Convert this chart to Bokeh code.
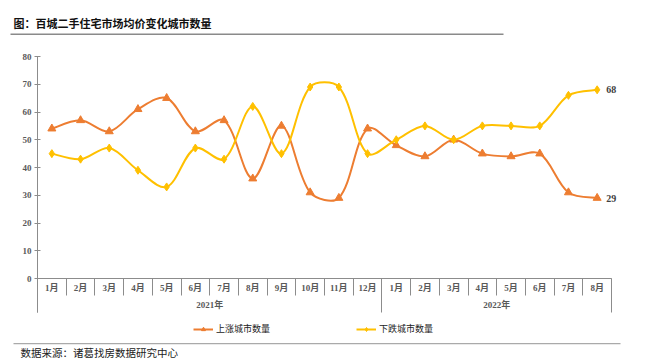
import math
from bokeh.plotting import figure
from bokeh.models import (Range1d, FixedTicker, LinearAxis, Legend, LegendItem,
                          Label, BoxAnnotation, ColumnDataSource)
from bokeh.embed import file_html
from bokeh.resources import INLINE

# ---- data ----
months = ["1月", "2月", "3月", "4月", "5月", "6月", "7月", "8月", "9月", "10月", "11月", "12月",
          "1月", "2月", "3月", "4月", "5月", "6月", "7月", "8月"]
years = ["2021年", "2022年"]
year_counts = [12, 8]
up = [54, 57, 53, 61, 65, 53, 57, 36, 55, 31, 29, 54, 48, 44, 50, 45, 44, 45, 31, 29]
down = [45, 43, 47, 39, 33, 47, 43, 62, 45, 69, 69, 45, 50, 55, 50, 55, 55, 55, 66, 68]
y_ticks = [0, 10, 20, 30, 40, 50, 60, 70, 80]
series_names = ["上涨城市数量", "下跌城市数量"]
title_text = "图：百城二手住宅市场均价变化城市数量"
source_text = "数据来源：诸葛找房数据研究中心"

ORANGE = "#ED7D31"
YELLOW = "#FFC000"
GRAY = "#8c8c8c"
LABEL_GRAY = "#595959"
SERIF = "Liberation Serif, Noto Sans CJK SC"
SANS = "Noto Sans CJK SC"

# ---- layout (pixels) ----
W, H = 645, 363
X_LEFT_PX, X_RIGHT_PX = 37, 611      # plot-area edges
Y_ZERO_PX, Y_TOP_PX = 278, 56        # value 0 and value 80
N = len(months)
YMAX = y_ticks[-1]
sx = (X_RIGHT_PX - X_LEFT_PX) / N
sy = (Y_ZERO_PX - Y_TOP_PX) / YMAX


def dx(px):
    return -0.5 + (px - X_LEFT_PX) / sx


def dy(py):
    return (Y_ZERO_PX - py) / sy


xs = list(range(N))


def smooth_segments(x, y, f=1.0 / 3.0):
    """Cubic bezier pieces through every point, tangents scaled by on-screen chord lengths
    (similar to a spreadsheet 'smoothed line')."""
    n = len(x)
    X = [v * sx for v in x]
    Y = [v * sy for v in y]

    def dist(i, j):
        return math.hypot(X[j] - X[i], Y[j] - Y[i])

    cout, cin = [], []
    for i in range(n):
        a = max(i - 1, 0)
        b = min(i + 1, n - 1)
        tx, ty = X[b] - X[a], Y[b] - Y[a]
        dp = dist(a, i) if i > 0 else 0.0
        dn = dist(i, b) if i < n - 1 else 0.0
        tot = dp + dn if dp + dn > 0 else 1.0
        if i == 0 or i == n - 1:
            kp = kn = f * 0.5
        else:
            kp, kn = f * dp / tot, f * dn / tot
        cout.append((X[i] + tx * kn, Y[i] + ty * kn))
        cin.append((X[i] - tx * kp, Y[i] - ty * kp))
    d = dict(x0=[], y0=[], x1=[], y1=[], cx0=[], cy0=[], cx1=[], cy1=[])
    for i in range(n - 1):
        d["x0"].append(x[i]); d["y0"].append(y[i])
        d["x1"].append(x[i + 1]); d["y1"].append(y[i + 1])
        d["cx0"].append(cout[i][0] / sx); d["cy0"].append(cout[i][1] / sy)
        d["cx1"].append(cin[i + 1][0] / sx); d["cy1"].append(cin[i + 1][1] / sy)
    return ColumnDataSource(d)


p = figure(width=W, height=H, output_backend="svg", toolbar_location=None,
           x_range=Range1d(dx(0), dx(W)), y_range=Range1d(dy(H), dy(0)),
           min_border=0, outline_line_color=None)
p.grid.visible = False

# y axis (drawn inside the canvas-wide frame)
ya = p.yaxis[0]
ya.fixed_location = -0.5
ya.bounds = (dy(312), YMAX)
ya.ticker = FixedTicker(ticks=y_ticks, minor_ticks=[])
ya.axis_line_color = GRAY
ya.major_tick_line_color = GRAY
ya.major_tick_out = 3
ya.major_tick_in = 3
ya.major_label_standoff = 3
ya.major_label_text_font = SERIF
ya.major_label_text_font_style = "bold"
ya.major_label_text_font_size = "9px"
ya.major_label_text_color = LABEL_GRAY

# month axis
xa = p.xaxis[0]
xa.fixed_location = 0
xa.bounds = (-0.5, N - 0.5)
xa.ticker = FixedTicker(ticks=xs, minor_ticks=[i - 0.5 for i in range(N + 1)])
xa.major_label_overrides = {i: m for i, m in enumerate(months)}
xa.axis_line_color = GRAY
xa.major_tick_out = 0
xa.major_tick_in = 0
xa.minor_tick_out = 17
xa.minor_tick_in = 0
xa.minor_tick_line_color = GRAY
xa.major_label_standoff = -13
xa.major_label_text_font = SERIF
xa.major_label_text_font_style = "bold"
xa.major_label_text_font_size = "9px"
xa.major_label_text_color = LABEL_GRAY

# year axis
bounds = [-0.5]
for c in year_counts:
    bounds.append(bounds[-1] + c)
centers = [(bounds[i] + bounds[i + 1]) / 2 for i in range(len(years))]
yr = LinearAxis(ticker=FixedTicker(ticks=centers, minor_ticks=bounds),
                major_label_overrides={c: t for c, t in zip(centers, years)})
yr.fixed_location = 0
yr.axis_line_color = None
yr.major_tick_out = 0
yr.major_tick_in = 0
yr.minor_tick_out = 34
yr.minor_tick_in = 0
yr.minor_tick_line_color = GRAY
yr.major_label_standoff = -13
yr.major_label_text_font = SERIF
yr.major_label_text_font_style = "bold"
yr.major_label_text_font_size = "9px"
yr.major_label_text_color = LABEL_GRAY
p.add_layout(yr, "below")

# series
items = []
for vals, color, marker, size, name in [(up, ORANGE, "triangle", 8, series_names[0]),
                                        (down, YELLOW, "diamond", 8, series_names[1])]:
    src = smooth_segments(xs, vals)
    bz = p.bezier("x0", "y0", "x1", "y1", "cx0", "cy0", "cx1", "cy1", source=src,
                  line_color=color, line_width=2)
    sc = p.scatter(xs, vals, marker=marker, size=size, fill_color=color, line_color=color)
    items.append(LegendItem(label=name, renderers=[bz, sc]))
    p.add_layout(Label(x=xs[-1], y=vals[-1], text=str(vals[-1]), x_offset=9,
                       text_baseline="middle", text_font=SERIF, text_font_style="bold",
                       text_font_size="10px", text_color="#404040"))

legend = Legend(items=items, orientation="horizontal", location=(193, H - 335),
                spacing=86, glyph_width=20, glyph_height=10, label_standoff=3,
                label_text_font=SANS, label_text_font_size="9px", label_text_color="#222222",
                border_line_color=None, background_fill_alpha=0, padding=0, margin=0)
p.add_layout(legend)

# title, rules, source
p.add_layout(Label(x=dx(13), y=dy(22), text=title_text,
                   text_baseline="middle", text_font=SANS, text_font_style="bold",
                   text_font_size="11px", text_color="#111111"))
p.add_layout(BoxAnnotation(left=dx(10), right=dx(503), top=dy(33), bottom=dy(34.5),
                           fill_color="#8a8a8a", fill_alpha=1, line_color=None))
p.add_layout(BoxAnnotation(left=dx(13), right=dx(620), top=dy(342.5), bottom=dy(343.7),
                           fill_color="#aaaaaa", fill_alpha=1, line_color=None))
p.add_layout(Label(x=dx(20), y=dy(352), text=source_text,
                   text_baseline="middle", text_font=SANS,
                   text_font_size="10.5px", text_color="#222222"))

open("out.html", "w").write(file_html(p, INLINE))
